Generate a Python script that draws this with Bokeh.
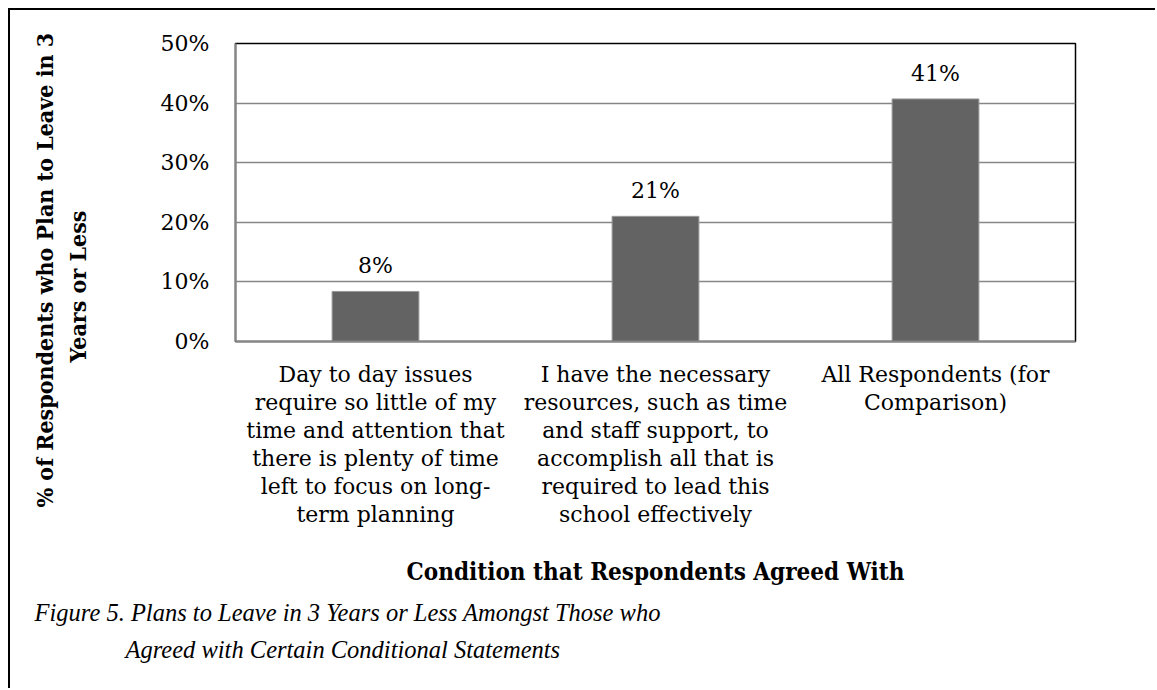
from bokeh.plotting import figure
from bokeh.models import (ColumnDataSource, FixedTicker, NumeralTickFormatter,
                          Title, Range1d, FactorRange)
from bokeh.core.properties import value
from bokeh.embed import file_html
from bokeh.resources import INLINE

# ---- data ----
categories = [
    "Day to day issues\nrequire so little of my\ntime and attention that\nthere is plenty of time\nleft to focus on long-\nterm planning",
    "I have the necessary\nresources, such as time\nand staff support, to\naccomplish all that is\nrequired to lead this\nschool effectively",
    "All Respondents (for\nComparison)",
]
values = [0.084, 0.210, 0.407]
y_ticks = [0.0, 0.1, 0.2, 0.3, 0.4, 0.5]
y_title_lines = ["% of Respondents who Plan to Leave in 3", "Years or Less"]
x_title = "Condition that Respondents Agreed With"
caption_lines = ["Figure 5. Plans to Leave in 3 Years or Less Amongst Those who",
                 "Agreed with Certain Conditional Statements"]

labels = [f"{round(v * 100):.0f}%" for v in values]

# ---- geometry (canvas px) ----
W, H = 1147, 680
FL, FR, FT, FB = 225, 1065, 33, 331   # frame edges within canvas

SERIF = "DejaVu Serif"
BOLD = "DejaVu Serif Condensed"
CAP = "Liberation Serif"

p = figure(width=W, height=H, output_backend="svg", toolbar_location=None,
           x_range=FactorRange(factors=categories, range_padding=0),
           y_range=Range1d(0, 0.5),
           min_border_left=FL, min_border_right=W - FR,
           min_border_top=FT, min_border_bottom=H - FB)
p.styles = {"margin-left": "8px", "margin-top": "8px",
            "border-left": "2px solid black", "border-top": "2px solid black"}

p.background_fill_color = "white"
p.border_fill_color = "white"
p.outline_line_color = "black"
p.outline_line_width = 1.5

src = ColumnDataSource(dict(x=categories, top=values, lab=labels))
p.vbar(x="x", top="top", width=0.31, source=src, fill_color="#636363",
       line_color="#9a9a9a", line_width=1)
p.text(x="x", y="top", text="lab", source=src, text_align="center",
       text_baseline="bottom", y_offset=-13, text_font=value(SERIF),
       text_font_size="22px", text_color="black")

# y axis
yax = p.yaxis[0]
yax.ticker = FixedTicker(ticks=y_ticks)
yax.formatter = NumeralTickFormatter(format="0%")
yax.major_label_text_font = SERIF
yax.major_label_text_font_size = "22px"
yax.major_label_text_color = "black"
yax.major_tick_line_color = None
yax.minor_tick_line_color = None
yax.major_tick_out = 0
yax.major_label_standoff = 26
yax.axis_line_color = "#868686"
yax.axis_line_width = 2
# blank label only reserves room between tick labels and the title lines
yax.axis_label = " "
yax.axis_label_text_font_size = "22px"
yax.axis_label_standoff = 34

# x axis
xax = p.xaxis[0]
xax.major_label_text_font = SERIF
xax.major_label_text_font_size = "22px"
xax.major_label_text_color = "black"
xax.major_label_text_line_height = 1.125
xax.major_tick_line_color = None
xax.major_tick_out = 0
xax.major_label_standoff = 20
xax.axis_line_color = "#868686"
xax.axis_line_width = 2
xax.axis_label = x_title
xax.axis_label_text_font = BOLD
xax.axis_label_text_font_style = "bold"
xax.axis_label_text_font_size = "24px"
xax.axis_label_text_color = "black"
xax.axis_label_standoff = 27

p.xgrid.grid_line_color = None
p.ygrid.grid_line_color = "#868686"
p.ygrid.grid_line_width = 1.5

# y title lines (left side, line 2 nearer the axis)
t2 = Title(text=y_title_lines[1], align="left", offset=-21, standoff=8,
           vertical_align="middle", text_font=BOLD, text_font_style="bold",
           text_font_size="23px", text_color="black")
t1 = Title(text=y_title_lines[0], align="left", offset=-166, standoff=0,
           vertical_align="middle", text_font=BOLD, text_font_style="bold",
           text_font_size="23px", text_color="black")
p.add_layout(t2, "left")
p.add_layout(t1, "left")

# caption lines (below)
c1 = Title(text=caption_lines[0], align="left", offset=-201, standoff=16,
           vertical_align="middle", text_font=CAP, text_font_style="italic",
           text_font_size="24.5px", text_color="black")
c2 = Title(text=caption_lines[1], align="left", offset=-110, standoff=0,
           vertical_align="middle", text_font=CAP, text_font_style="italic",
           text_font_size="24.5px", text_color="black")
p.add_layout(c1, "below")
p.add_layout(c2, "below")

open("out.html", "w").write(file_html(p, INLINE))
